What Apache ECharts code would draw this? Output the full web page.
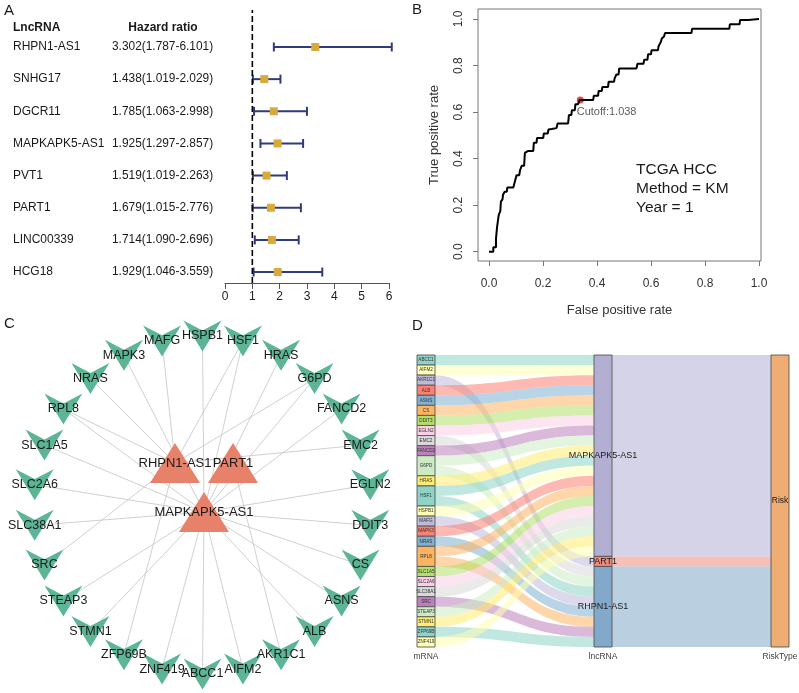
<!DOCTYPE html>
<html><head><meta charset="utf-8">
<script src="https://cdn.jsdelivr.net/npm/echarts@6/dist/echarts.min.js"></script>
<style>html,body{margin:0;padding:0;background:#fff}#c{width:799px;height:693px}</style>
</head><body><div id="c"></div>
<script>
// ---------- Panel A: forest plot ----------
const lncNames = ['RHPN1-AS1','SNHG17','DGCR11','MAPKAPK5-AS1','PVT1','PART1','LINC00339','HCG18'];
const hrValues = [3.302,1.438,1.785,1.925,1.519,1.679,1.714,1.929];
const hrLower  = [1.787,1.019,1.063,1.297,1.019,1.015,1.090,1.046];
const hrUpper  = [6.101,2.029,2.998,2.857,2.263,2.776,2.696,3.559];
const hrTicks  = [0,1,2,3,4,5,6];
const refLine  = 1;

// ---------- Panel B: ROC ----------
const rocFpr = [0,0.016,0.016,0.026,0.026,0.030,0.030,0.034,0.036,0.042,0.044,0.050,0.052,0.058,0.066,0.068,0.090,0.094,0.100,0.102,0.112,0.115,0.120,0.121,0.130,0.133,0.145,0.164,0.166,0.176,0.178,0.201,0.203,0.218,0.220,0.232,0.250,0.254,0.293,0.296,0.305,0.307,0.318,0.320,0.330,0.336,0.386,0.388,0.404,0.406,0.418,0.420,0.441,0.443,0.463,0.465,0.470,0.472,0.480,0.482,0.546,0.550,0.572,0.575,0.587,0.589,0.600,0.602,0.626,0.628,0.636,0.640,0.648,0.652,0.750,0.752,0.890,0.892,0.928,0.930,0.960,1.0];
const rocTpr = [0,0,0.019,0.019,0.057,0.057,0.107,0.107,0.157,0.175,0.215,0.225,0.245,0.258,0.258,0.276,0.276,0.293,0.293,0.329,0.329,0.350,0.350,0.369,0.369,0.425,0.433,0.433,0.468,0.468,0.489,0.489,0.508,0.508,0.525,0.527,0.531,0.551,0.551,0.587,0.587,0.608,0.608,0.634,0.634,0.652,0.652,0.670,0.670,0.691,0.691,0.708,0.708,0.730,0.730,0.744,0.744,0.762,0.762,0.787,0.787,0.808,0.808,0.825,0.825,0.848,0.848,0.866,0.866,0.883,0.900,0.916,0.925,0.940,0.940,0.958,0.958,0.977,0.977,0.996,0.996,1.0];
const cutoffPoint = [0.338, 0.652];
const cutoffLabel = 'Cutoff:1.038';
const rocTicks = [0,0.2,0.4,0.6,0.8,1.0];
const rocNotes = ['TCGA HCC','Method = KM','Year = 1'];

// ---------- Panels C & D: network / sankey ----------
const genes = ['ABCC1','AIFM2','AKR1C1','ALB','ASNS','CS','DDIT3','EGLN2','EMC2','FANCD2','G6PD','HRAS','HSF1','HSPB1','MAFG','MAPK3','NRAS','RPL8','SLC1A5','SLC2A6','SLC38A1','SRC','STEAP3','STMN1','ZFP69B','ZNF419'];
const lncRNAs = ['MAPKAPK5-AS1','PART1','RHPN1-AS1'];
const targetsMAPKAPK5 = ['ABCC1','AIFM2','ALB','ASNS','CS','DDIT3','EGLN2','FANCD2','G6PD','HRAS','HSF1','HSPB1','MAPK3','RPL8','SLC1A5','SLC2A6','SLC38A1','STEAP3','STMN1','ZNF419'];
const targetsPART1 = ['AKR1C1'];
const targetsRHPN1 = ['EMC2','G6PD','HSF1','MAFG','NRAS','RPL8','SRC','ZFP69B'];
const riskType = 'Risk';
const axisNamesD = ['mRNA','lncRNA','RiskType'];

// ---------- styles ----------
const FONT = 'Liberation Sans, Arial, Helvetica, sans-serif';
const NAVY = '#2f3b7d', GOLD = '#d8a93b';
const set3 = ['#8dd3c7','#ffffb3','#bebada','#fb8072','#80b1d3','#fdb462','#b3de69','#fccde5','#d9d9d9','#bc80bd','#ccebc5','#ffed6f'];
const lncColors = ['#b2afd3','#ef8b7d','#82a9c9'];
const riskColor = '#efad74';
const TEAL = '#5cb595', SALMON = '#e8816a';

const chart = echarts.init(document.getElementById('c'), null, {renderer:'canvas'});

// network layout (circle) -- layout parameters
const netCenter = [202.5, 505], netRadius = 169;
const lncOffsets = [[1.5, 7], [30.5, -42], [-27.5, -42]];
const nGenes = genes.length;
const netNodes = [];
genes.forEach((g, i) => {
  const k = (i + nGenes / 2) % nGenes;
  const th = k * 2 * Math.PI / nGenes;
  netNodes.push({
    name: g,
    x: netCenter[0] - netRadius * Math.sin(th),
    y: netCenter[1] - netRadius * Math.cos(th),
    symbol: 'path://M0,0L50,32L100,0L50,100Z',
    symbolSize: [38, 31],
    itemStyle: {color: TEAL},
    label: {show: true, position: 'inside', fontSize: 12.5, color: '#1a1a1a', fontFamily: FONT}
  });
});
lncRNAs.forEach((l, j) => {
  netNodes.push({
    name: l,
    x: netCenter[0] + lncOffsets[j][0],
    y: netCenter[1] + lncOffsets[j][1],
    symbol: 'triangle', symbolSize: [50, 40],
    itemStyle: {color: SALMON},
    label: {show: true, position: 'inside', fontSize: 13, color: '#1a1a1a', fontFamily: FONT}
  });
});
const targetLists = [targetsMAPKAPK5, targetsPART1, targetsRHPN1];
const netLinks = [];
lncRNAs.forEach((l, j) => targetLists[j].forEach(g => netLinks.push({source: g, target: l})));
const xs = netNodes.map(n => n.x), ys = netNodes.map(n => n.y);
const nMinX = Math.min(...xs), nMaxX = Math.max(...xs), nMinY = Math.min(...ys), nMaxY = Math.max(...ys);

// sankey
const sankeyNodes = [];
genes.forEach((g, i) => sankeyNodes.push({name: g, itemStyle: {color: set3[i % 12]}, label: {fontSize: 4.6, color: '#333'}}));
lncRNAs.forEach((l, j) => sankeyNodes.push({name: l, itemStyle: {color: lncColors[j]}, label: {fontSize: 9, color: '#1a1a1a'}}));
sankeyNodes.push({name: riskType, itemStyle: {color: riskColor}, label: {fontSize: 8.5, color: '#1a1a1a'}});
const sankeyLinks = [];
genes.forEach(g => lncRNAs.forEach((l, j) => { if (targetLists[j].includes(g)) sankeyLinks.push({source: g, target: l, value: 1}); }));
lncRNAs.forEach((l, j) => sankeyLinks.push({source: l, target: riskType, value: targetLists[j].length}));

// forest data
const forestData = lncNames.map((n, i) => [lncNames.length - i, hrValues[i], hrLower[i], hrUpper[i]]);

function txt(text, x, y, size, opts) {
  return Object.assign({type: 'text', x: x, y: y, silent: true,
    style: Object.assign({text: text, fontSize: size, fontFamily: FONT, fill: '#1a1a1a', verticalAlign: 'middle', align: 'left'}, (opts||{}).style || {})}, (opts||{}).el || {});
}

const graphics = [
  txt('A', 4, 11, 15), txt('B', 412, 10, 15), txt('C', 4, 324, 15), txt('D', 412, 326, 15),
  txt('LncRNA', 13, 28, 12, {style: {fontWeight: 'bold'}}),
  txt('Hazard ratio', 163, 28, 12, {style: {fontWeight: 'bold', align: 'center'}}),
  txt(rocNotes[0], 636, 170, 15.5), txt(rocNotes[1], 636, 189, 15.5), txt(rocNotes[2], 636, 208, 15.5),
  txt(axisNamesD[0], 426, 657, 8.5, {style: {align: 'center', fill: '#444'}}),
  txt(axisNamesD[1], 603, 657, 8.5, {style: {align: 'center', fill: '#444'}}),
  txt(axisNamesD[2], 780, 657, 8.5, {style: {align: 'center', fill: '#444'}})
];

const option = {
  animation: false,
  textStyle: {fontFamily: FONT},
  graphic: graphics,
  grid: [
    {left: 225, right: 410, top: 10, bottom: 410},
    {left: 478, right: 38, top: 9, bottom: 432, show: true, borderColor: '#777', borderWidth: 1}
  ],
  xAxis: [
    {gridIndex: 0, type: 'value', min: 0, max: 6, interval: 1,
     axisLine: {lineStyle: {color: '#555', width: 1}},
     axisTick: {length: 6, lineStyle: {color: '#555'}},
     axisLabel: {fontSize: 12, color: '#222', margin: 8},
     splitLine: {show: false}},
    {gridIndex: 1, type: 'value', min: -0.0407, max: 1.0074,
     axisLine: {show: false, onZero: false},
     axisTick: {show: true, length: 5, customValues: rocTicks, lineStyle: {color: '#777'}},
     axisLabel: {fontSize: 12, color: '#333', margin: 17, customValues: rocTicks, formatter: v => v.toFixed(1)},
     splitLine: {show: false},
     name: 'False positive rate', nameLocation: 'middle', nameGap: 43,
     nameTextStyle: {fontSize: 13, color: '#333'}}
  ],
  yAxis: [
    {gridIndex: 0, type: 'value', min: 0.66, max: 9.15, show: false},
    {gridIndex: 1, type: 'value', min: -0.040, max: 1.043,
     axisLine: {show: false, onZero: false},
     axisTick: {show: true, length: 5, customValues: rocTicks, lineStyle: {color: '#777'}},
     axisLabel: {fontSize: 12, color: '#333', margin: 13, rotate: 90, customValues: rocTicks, formatter: v => v.toFixed(1)},
     splitLine: {show: false},
     name: 'True positive rate', nameLocation: 'middle', nameGap: 37,
     nameTextStyle: {fontSize: 13, color: '#333'}}
  ],
  series: [
    {type: 'line', xAxisIndex: 0, yAxisIndex: 0, data: [[refLine, 0.66], [refLine, 9.15]],
     symbol: 'none', silent: true, lineStyle: {color: '#000', width: 1.6, type: [6, 3]}},
    {type: 'custom', xAxisIndex: 0, yAxisIndex: 0, data: forestData, silent: true,
     renderItem: function (params, api) {
       const y = api.value(0), hr = api.value(1), lo = api.value(2), hi = api.value(3);
       const pL = api.coord([lo, y]), pR = api.coord([hi, y]), pM = api.coord([hr, y]);
       const idx = params.dataIndex;
       const ls = {stroke: NAVY, lineWidth: 2};
       return {type: 'group', children: [
         {type: 'line', shape: {x1: pL[0], y1: pL[1], x2: pR[0], y2: pR[1]}, style: ls},
         {type: 'line', shape: {x1: pL[0], y1: pL[1] - 4.5, x2: pL[0], y2: pL[1] + 4.5}, style: ls},
         {type: 'line', shape: {x1: pR[0], y1: pR[1] - 4.5, x2: pR[0], y2: pR[1] + 4.5}, style: ls},
         {type: 'rect', shape: {x: pM[0] - 4, y: pM[1] - 4, width: 8, height: 8}, style: {fill: GOLD}},
         {type: 'text', x: 13, y: pM[1], style: {text: lncNames[idx], fontSize: 12, fontFamily: FONT, fill: '#1a1a1a', verticalAlign: 'middle'}},
         {type: 'text', x: 112, y: pM[1], style: {text: hr.toFixed(3) + '(' + lo.toFixed(3) + '-' + hi.toFixed(3) + ')', fontSize: 11.9, fontFamily: FONT, fill: '#1a1a1a', verticalAlign: 'middle'}}
       ]};
     }},
    {type: 'line', xAxisIndex: 1, yAxisIndex: 1, data: rocFpr.map((f, i) => [f, rocTpr[i]]),
     symbol: 'none', silent: true, lineStyle: {color: '#000', width: 2}},
    {type: 'scatter', xAxisIndex: 1, yAxisIndex: 1, data: [cutoffPoint], symbolSize: 7, silent: true,
     itemStyle: {color: '#e31a1c'},
     label: {show: true, formatter: cutoffLabel, position: [0, 10], align: 'left', verticalAlign: 'top', fontSize: 11, color: '#333'}},
    {type: 'graph', layout: 'none', roam: false, silent: true,
     left: nMinX, top: nMinY, width: nMaxX - nMinX, height: nMaxY - nMinY,
     data: netNodes, links: netLinks,
     lineStyle: {color: '#c4c4c4', width: 0.8, opacity: 1, curveness: 0},
     emphasis: {disabled: true}},
    {type: 'sankey', left: 417, top: 355, right: 10, bottom: 46,
     nodeWidth: 18, nodeGap: 0, layoutIterations: 0, draggable: false, silent: true,
     emphasis: {disabled: true},
     label: {position: 'inside', fontFamily: FONT},
     itemStyle: {borderColor: '#555', borderWidth: 0.9},
     lineStyle: {color: 'source', opacity: 0.55, curveness: 0.5},
     data: sankeyNodes, links: sankeyLinks}
  ]
};
chart.setOption(option);
</script></body></html>
